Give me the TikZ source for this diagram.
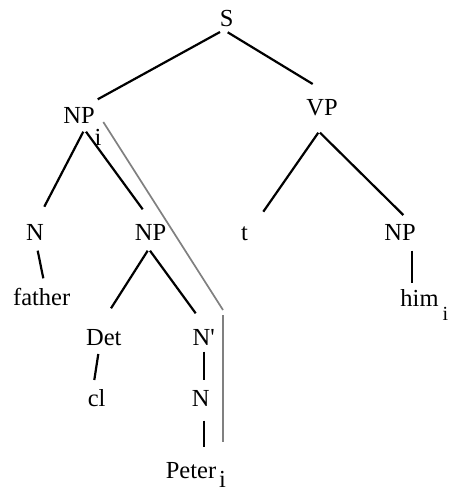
\documentclass[tikz,border=0pt]{standalone}
\usepackage{fontspec}
\setmainfont{Liberation Serif}
\definecolor{greyline}{RGB}{128,128,128}
\begin{document}
\begin{tikzpicture}[x=1pt,y=-1pt,
  lbl/.style={anchor=base,inner sep=0pt,font=\fontsize{24.5}{28}\selectfont},
  edge/.style={line width=2.2pt,black},
  coref/.style={line width=1.7pt,greyline}]
\useasboundingbox (0,0) rectangle (450,487);
% nodes
\node[lbl] (S) at (226.7,27) {S};
\node[lbl] (NPa) at (79,123) {NP\rlap{\raisebox{-22pt}{i}}};
\node[lbl] (VP) at (322,115) {VP};
\node[lbl] (Na) at (35,240) {N};
\node[lbl] (NPb) at (150.5,240) {NP};
\node[lbl] (t) at (244.5,240) {t};
\node[lbl] (NPc) at (400,240) {NP};
\node[lbl] (father) at (41.7,305) {father};
\node[lbl] (Det) at (103.8,345) {Det};
\node[lbl] (Nbar) at (203.8,345) {N\textquotesingle};
\node[lbl] (cl) at (96.7,406) {cl};
\node[lbl] (Nb) at (200.8,406) {N};
\node[lbl] (Peter) at (191,478) {Peter\rlap{\hspace{3pt}\raisebox{-9pt}{i}}};
\node[lbl] (him) at (419.5,306) {him\rlap{\hspace{4pt}\raisebox{-14pt}{\fontsize{20}{22}\selectfont i}}};
% coordinates of the grey line bend
\coordinate (gA) at (223,310);
\coordinate (gB) at (222.7,315);
% edges
\draw[edge] ([shift={(-6.7,5)}]S.base) -- ([shift={(18.7,-23.7)}]NPa.base);
\draw[edge] ([shift={(1,5.3)}]S.base) -- ([shift={(-9.3,-31)}]VP.base);
\draw[edge] ([shift={(4.3,8.7)}]NPa.base) -- ([shift={(9.3,-33.3)}]Na.base);
\draw[edge] ([shift={(7,8.7)}]NPa.base) -- ([shift={(-7.8,-30.7)}]NPb.base);
\draw[edge] ([shift={(-3.7,17.7)}]VP.base) -- ([shift={(18.8,-28.3)}]t.base);
\draw[edge] ([shift={(-2,17.7)}]VP.base) -- ([shift={(3.3,-25)}]NPc.base);
\draw[edge] ([shift={(2.7,10.7)}]Na.base) -- ([shift={(1.6,-26.7)}]father.base);
\draw[edge] ([shift={(-2.8,10.7)}]NPb.base) -- ([shift={(7.2,-36.7)}]Det.base);
\draw[edge] ([shift={(-0.5,10.7)}]NPb.base) -- ([shift={(-8.1,-31.7)}]Nbar.base);
\draw[edge] ([shift={(-5.5,9)}]Det.base) -- ([shift={(-2.4,-26)}]cl.base);
\draw[edge] ([shift={(0.2,6.7)}]Nbar.base) -- ([shift={(3.2,-26)}]Nb.base);
\draw[edge] ([shift={(3.2,14.7)}]Nb.base) -- ([shift={(13,-31.3)}]Peter.base);
\draw[edge] ([shift={(11.7,10.7)}]NPc.base) -- ([shift={(-7.8,-22.7)}]him.base);
% coreference line
\draw[coref] ([shift={(24.3,-1)}]NPa.base) -- (gA);
\draw[coref] (gB) -- ([shift={(31.7,-36)}]Peter.base);
\end{tikzpicture}
\end{document}
